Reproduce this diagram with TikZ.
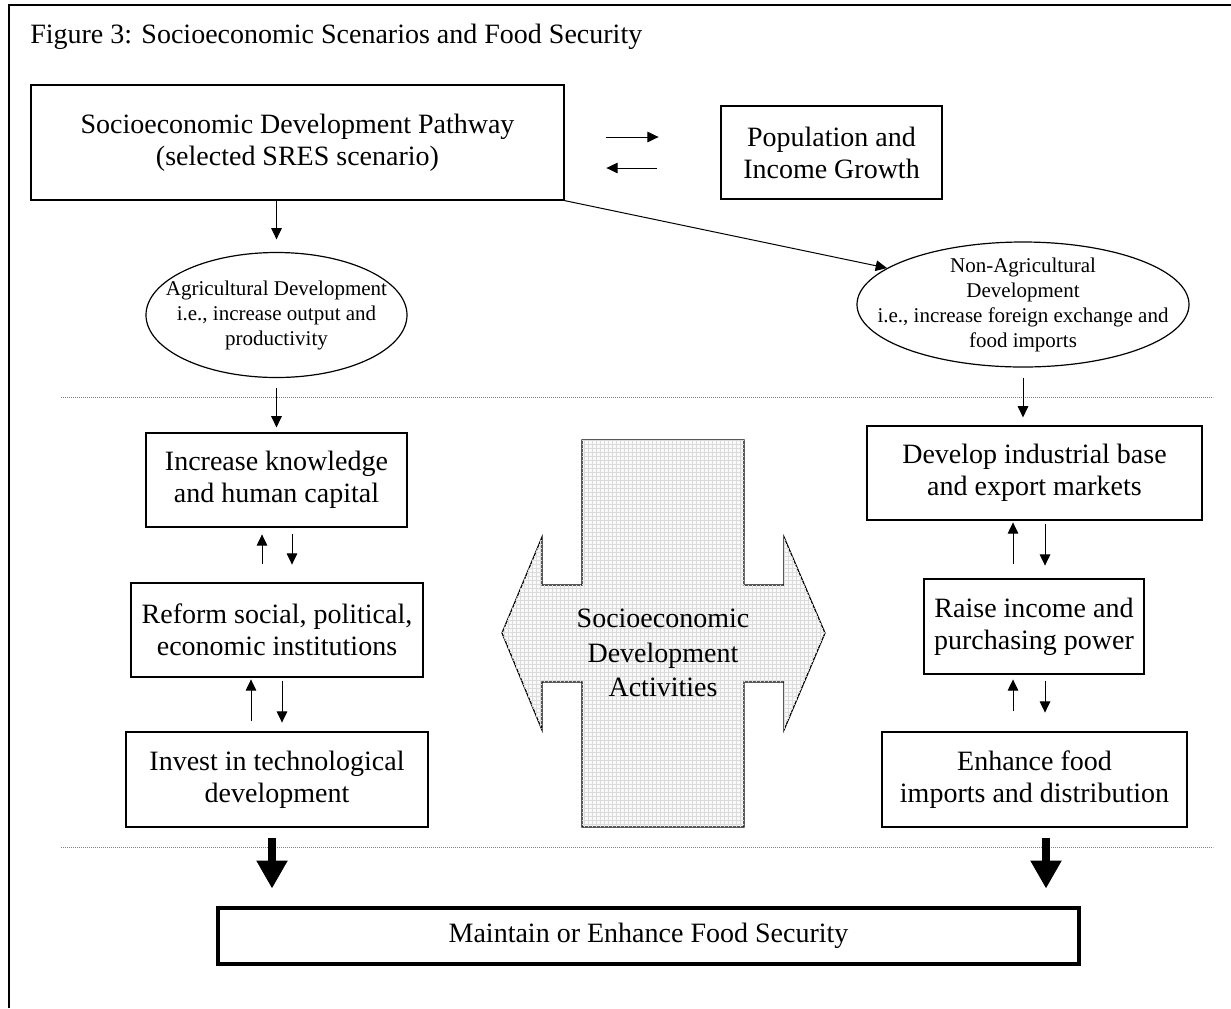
\documentclass[tikz,border=0pt]{standalone}
\usepackage{fontspec}
\setmainfont{Liberation Serif}
\usetikzlibrary{arrows.meta,shapes.geometric,patterns,positioning}

\newcommand{\titlefont}{\fontsize{21}{24}\selectfont}
\newcommand{\stagefont}{\fontsize{21}{24}\selectfont}
\newcommand{\ovalfont}{\fontsize{15.75}{18.75}\selectfont}
\newcommand{\hubfont}{\fontsize{21}{26}\selectfont}

\tikzset{
  stagebox/.style={draw, line width=0.9pt, align=center, font=\stagefont, inner sep=0pt},
  oval/.style={draw, ellipse, line width=0.9pt, inner sep=0pt},
  ovaltext/.style={align=center, font=\ovalfont, inner sep=0pt},
  arr/.style={-{Triangle[length=8.5pt,width=8pt]}, line width=0.75pt},
  bigarr/.style={-{Triangle[length=21pt,width=22pt]}, line width=6pt},
  sepline/.style={line width=0.6pt, gray, dash pattern=on 0.6pt off 0.9pt}
}

\begin{document}
\begin{tikzpicture}[x=0.75pt,y=0.75pt,yscale=-1,xscale=1]
\useasboundingbox (0,0) rectangle (1231,1008);

% Frame
\draw[line width=1pt] (9,1008) -- (9,5) -- (1231,5);

% Text Node
\node[anchor=base west, inner sep=0pt, font=\titlefont] (title) at (30,43) {Figure 3: Socioeconomic Scenarios and Food Security};

% Separators
\draw[sepline] (61,397) -- (1213,397);
\draw[sepline] (61,847) -- (1213,847);

% Shape: Rectangle
\node[stagebox, minimum width=399.75pt, minimum height=86.25pt] (pathway) at (297.5,142.5) {Socioeconomic Development Pathway\\(selected SRES scenario)};
% Shape: Rectangle
\node[stagebox, minimum width=165.75pt, minimum height=69.75pt] (growth) at (831.5,152.5) {Population and\\Income Growth};

% Shape: Ellipse
\node[oval, minimum width=195.75pt, minimum height=93.75pt, label={[ovaltext]center:{Agricultural Development\\i.e., increase output and\\productivity}}] (agri) at (276.5,315) {};
% Shape: Ellipse
\node[oval, minimum width=249pt, minimum height=93.75pt, label={[ovaltext]center:{Non-Agricultural\\Development\\i.e., increase foreign exchange and\\food imports}}] (nonag) at (1023,304.5) {};

% Shape: Rectangle (left column)
\node[stagebox, minimum width=195.75pt, minimum height=70.5pt] (increase) at (276.5,480) {Increase knowledge\\and human capital};
\node[stagebox, minimum width=219pt, minimum height=70.5pt] (reform) at (277,630) {Reform social, political,\\economic institutions};
\node[stagebox, minimum width=226.5pt, minimum height=71.25pt] (invest) at (277,779.5) {Invest in technological\\development};

% Shape: Rectangle (right column)
\node[stagebox, minimum width=251.25pt, minimum height=70.5pt] (develop) at (1034.5,473) {Develop industrial base\\and export markets};
\node[stagebox, minimum width=165pt, minimum height=71.25pt] (raise) at (1034,626.5) {Raise income and\\purchasing power};
\node[stagebox, minimum width=228.75pt, minimum height=71.25pt] (enhance) at (1034.5,779.5) {Enhance food\\imports and distribution};

% Shape: double arrow with body
\draw[line width=0.9pt, fill=gray!5, postaction={pattern=grid, pattern color=gray!28}]
  (582,440) -- (744,440) -- (744,585) -- (784,585) -- (784,537) -- (825,633) -- (784,730) -- (784,682) -- (744,682)
  -- (744,827) -- (582,827) -- (582,682) -- (542,682) -- (542,730) -- (502,633) -- (542,537) -- (542,585) -- (582,585) -- cycle;
% Text Node
\node[align=center, font=\hubfont] (activities) at (663,653) {Socioeconomic\\Development\\Activities};

% Shape: Rectangle
\node[stagebox, line width=3.4pt, minimum width=645.75pt, minimum height=42pt] (food) at (648.5,936) {Maintain or Enhance Food Security};

% Connection
\draw[arr, shorten >=9.4pt] (agri.north |- pathway.south) -- (agri.north);
\draw[arr] (pathway.south east) -- (nonag.165);
\draw[arr] (pathway.east) ++(41,-5.5) -- ++(53,0);
\draw[arr] (growth.west) ++(-63,15.5) -- ++(-51,0);
% Connection
\draw[arr, shorten <=7.1pt, shorten >=3.75pt] (agri.south) -- (agri.south |- increase.north);
\draw[arr, shorten <=7.5pt, shorten >=6pt] (nonag.south) -- (nonag.south |- develop.north);
% Connection
\draw[arr] (reform.north) ++(-15,-18) -- ++(0,-30);
\draw[arr] (increase.south) ++(15.5,6) -- ++(0,31);
\draw[arr] (invest.north) ++(-26,-10) -- ++(0,-42);
\draw[arr] (reform.south) ++(5,3) -- ++(0,42);
% Connection
\draw[arr] (raise.north) ++(-21,-14) -- ++(0,-42);
\draw[arr] (develop.south) ++(10.5,3) -- ++(0,42);
\draw[arr] (enhance.north) ++(-21.5,-20) -- ++(0,-32);
\draw[arr] (raise.south) ++(11,6) -- ++(0,32);
% Connection
\draw[bigarr] (invest.south) ++(-5,10) -- ++(0,51);
\draw[bigarr] (enhance.south) ++(11.5,10) -- ++(0,51);

\end{tikzpicture}
\end{document}
